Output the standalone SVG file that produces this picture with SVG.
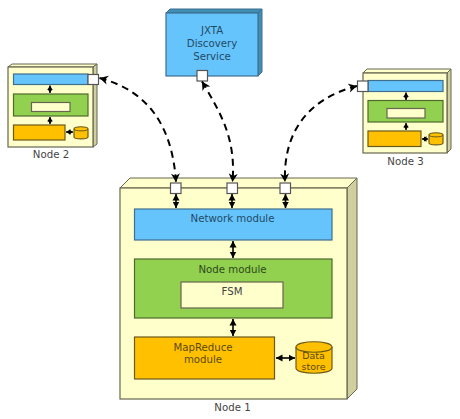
<svg xmlns="http://www.w3.org/2000/svg" width="460" height="419" viewBox="0 0 460 419">
<style>
text{font-family:"DejaVu Sans",Verdana,sans-serif;font-size:10.200px;text-anchor:middle}
.blue{fill:#66c4fc;stroke:#3f6f8f;stroke-width:1.2}
.green{fill:#92d050;stroke:#4d6b2e;stroke-width:1.2}
.orange{fill:#ffc000;stroke:#6b5a1c;stroke-width:1.2}
.pale{fill:#ffffcc;stroke:#666650;stroke-width:1.2}
.side{fill:#cfcfa0;stroke:#666650;stroke-width:1}
.top{fill:#ffffcc;stroke:#666650;stroke-width:1}
.port{fill:#fff;stroke:#555;stroke-width:1.2}
.dash{fill:none;stroke:#000;stroke-width:2;stroke-dasharray:7 5}
.link{fill:none;stroke:#000;stroke-width:1.6}
.small{stroke-width:1.3}
.label{fill:#444}
.in{fill:#1f4a66}
.ing{fill:#2c4a1a}
.ino{fill:#5c4a10}
.bside{fill:#3f8fb5;stroke:#3f6f8f;stroke-width:1}
</style>
<defs>
<marker id="d" markerWidth="9" markerHeight="10" refX="8.500" refY="5" orient="auto-start-reverse" markerUnits="userSpaceOnUse"><path d="M0 0.500L8.500 5L0 9.500L2.500 5Z" fill="#000"/></marker>
<marker id="a" markerWidth="7" markerHeight="8" refX="6.500" refY="4" orient="auto-start-reverse" markerUnits="userSpaceOnUse"><path d="M0 0.500L6.500 4L0 7.500Z" fill="#000"/></marker>
<marker id="s" markerWidth="5" markerHeight="6" refX="4.500" refY="3" orient="auto-start-reverse" markerUnits="userSpaceOnUse"><path d="M0 0.300L4.500 3L0 5.700Z" fill="#000"/></marker>
</defs>
<g id="node1">
<path class="top" d="M120 188L130 178H357L347 188Z"/>
<path class="side" d="M347 188L357 178V389L347 399Z"/>
<rect class="pale" x="120" y="188" width="227" height="211"/>
<text class="label" x="232.500" y="411">Node 1</text>
</g>
<g id="network-module"><rect class="blue" x="134.500" y="209" width="197.500" height="31"/><text class="in" x="232.500" y="222">Network module</text></g>
<g id="node-module"><rect class="green" x="134.500" y="259" width="197.500" height="59"/><text class="ing" x="232.500" y="272.500">Node module</text></g>
<g id="fsm"><rect class="pale" x="181" y="282" width="102" height="26"/><text class="label" x="232" y="295">FSM</text></g>
<g id="mapreduce-module"><rect class="orange" x="134.500" y="337" width="140" height="42"/><text class="ino" x="203" y="351">MapReduce</text><text class="ino" x="203" y="363">module</text></g>
<g id="data-store"><path class="orange" d="M296 347C296 340 332 340 332 347V368C332 375 296 375 296 368Z"/><path class="orange" style="fill:none" d="M296 347C296 354 332 354 332 347"/><text class="ino" x="313.500" y="359" style="font-size:9.500px">Data</text><text class="ino" x="313.500" y="369.500" style="font-size:9.500px">store</text></g>
<g id="port-1a"><rect class="port" x="170.500" y="183" width="10.500" height="10.500"/></g>
<g id="port-1b"><rect class="port" x="227" y="183" width="10.500" height="10.500"/></g>
<g id="port-1c"><rect class="port" x="280" y="183" width="10.500" height="10.500"/></g>
<g id="jxta">
<path class="bside" d="M166 13L170 9H262L258 13Z"/>
<path class="bside" d="M258 13L262 9V72L258 76Z"/>
<rect class="blue" x="166" y="13" width="92" height="63"/>
<text class="in" x="212" y="33.500">JXTA</text><text class="in" x="212" y="46.500">Discovery</text><text class="in" x="212" y="59.500">Service</text>
</g>
<g id="port-jxta"><rect class="port" x="197" y="70.500" width="10.500" height="10.500"/></g>
<g id="node2">
<path class="top" d="M8 67L12 64H97L93 67Z"/>
<path class="side" d="M93 67L97 64V144L93 147Z"/>
<rect class="pale" x="8" y="67" width="85" height="80"/>
<rect class="blue" x="13.500" y="74" width="74.500" height="10.500"/>
<rect class="green" x="13.500" y="94" width="74.500" height="22"/>
<rect class="pale" x="31.500" y="102.500" width="38.500" height="9"/>
<rect class="orange" x="13.500" y="125" width="51.500" height="15"/>
<path class="orange" d="M74 129C74 126 88 126 88 129V137C88 139.500 74 139.500 74 137Z"/><path style="fill:none;stroke:#6b5a1c" d="M74 129C74 131.500 88 131.500 88 129"/>
<rect class="port" x="88" y="74.500" width="10.500" height="10"/>
<text class="label" x="51" y="158">Node 2</text>
</g>
<g id="node3">
<path class="top" d="M363 73L367 69H451L447 73Z"/>
<path class="side" d="M447 73L451 69V149L447 153Z"/>
<rect class="pale" x="363" y="73" width="84" height="80"/>
<rect class="blue" x="368" y="80.500" width="75" height="11"/>
<rect class="green" x="368" y="100.500" width="75" height="21.500"/>
<rect class="pale" x="387" y="108.500" width="38" height="9.500"/>
<rect class="orange" x="368" y="131" width="53" height="15.500"/>
<path class="orange" d="M429 135C429 132 443 132 443 135V143C443 145.500 429 145.500 429 143Z"/><path style="fill:none;stroke:#6b5a1c" d="M429 135C429 137.500 443 137.500 443 135"/>
<rect class="port" x="357.500" y="81" width="10.500" height="10.500"/>
<text class="label" x="405.500" y="165">Node 3</text>
</g>
<g id="connectors">
<path class="dash" marker-start="url(#d)" marker-end="url(#d)" d="M99.500 78C145 90 172 122 176 182"/>
<path class="dash" marker-start="url(#d)" marker-end="url(#d)" d="M202 81.500C222 115 236 140 232.500 182"/>
<path class="dash" marker-start="url(#d)" marker-end="url(#d)" d="M357 86C310 98 283 130 285 182"/>
<path class="link" marker-start="url(#a)" marker-end="url(#a)" d="M176 194V208"/>
<path class="link" marker-start="url(#a)" marker-end="url(#a)" d="M232 194V208"/>
<path class="link" marker-start="url(#a)" marker-end="url(#a)" d="M285.500 194V208"/>
<path class="link" marker-start="url(#a)" marker-end="url(#a)" d="M233 241V258"/>
<path class="link" marker-start="url(#a)" marker-end="url(#a)" d="M233 319V336"/>
<path class="link" marker-start="url(#a)" marker-end="url(#a)" d="M276 358H295"/>
<path class="link small" marker-start="url(#s)" marker-end="url(#s)" d="M50 85.500V93"/>
<path class="link small" marker-start="url(#s)" marker-end="url(#s)" d="M50 117V124"/>
<path class="link small" marker-start="url(#s)" marker-end="url(#s)" d="M66 132H73"/>
<path class="link small" marker-start="url(#s)" marker-end="url(#s)" d="M406 92.500V100"/>
<path class="link small" marker-start="url(#s)" marker-end="url(#s)" d="M406 123V130"/>
<path class="link small" marker-start="url(#s)" marker-end="url(#s)" d="M422 139H428"/>
</g>
</svg>
